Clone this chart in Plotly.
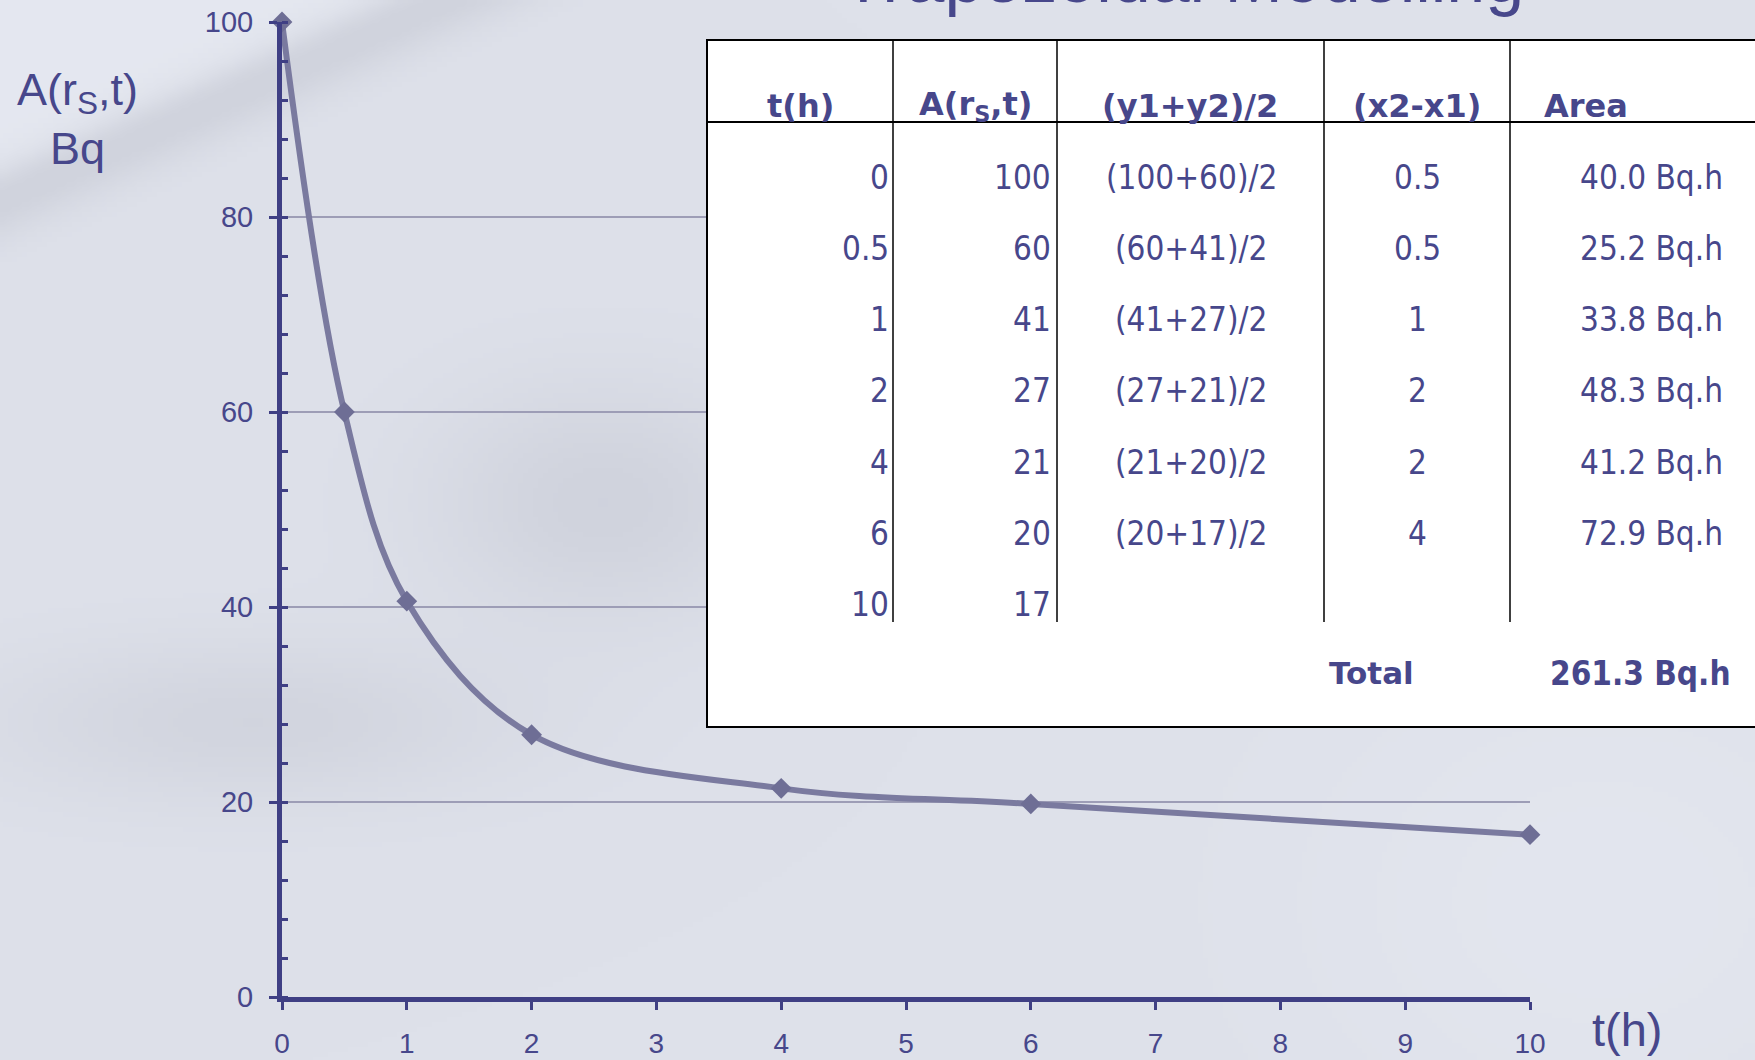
import base64
import struct
import zlib

import numpy as np
import plotly.graph_objects as go

# Activity curve A(r_S, t) sampled at the listed times
t_hours = [0, 0.5, 1, 2, 4, 6, 10]
activity_bq = [100, 60, 40.6, 26.9, 21.4, 19.8, 16.65]

# Trapezoid table: widths of each interval and resulting areas (Bq.h)
dt_hours = [0.5, 0.5, 1, 2, 2, 4]
area_bqh = [40.0, 25.2, 33.8, 48.3, 41.2, 72.9]
total_area_bqh = 261.3

y_tick_vals = [0, 20, 40, 60, 80, 100]
x_tick_vals = [0, 1, 2, 3, 4, 5, 6, 7, 8, 9, 10]
table_headers = ["t(h)", "A(r<sub>S</sub>,t)", "(y1+y2)/2", "(x2-x1)", "Area"]

TITLE = "Trapezoidal Modelling"

# ---------------------------------------------------------------- geometry
W, H = 1755, 1060
L, R, T, B = 282, 225, 22, 63
PW, PH = W - L - R, H - T - B

NAVY = "#3f3f84"
TEXT = "#47478b"
CURVE = "#7a7a9f"
GRID = "#9d9db6"
SANS = "Liberation Sans, Arial, sans-serif"
TABLE_FONT = "DejaVu Sans Condensed, DejaVu Sans, Verdana, sans-serif"
HEAD_FONT = "DejaVu Sans, Verdana, sans-serif"


def px(x):
    """pixel column -> paper x"""
    return (x - L) / PW


def py(y):
    """pixel row -> paper y"""
    return 1 - (y - T) / PH


# ---------------------------------------------------------------- backdrop
def snow_backdrop(w=351, h=212):
    yy, xx = np.mgrid[0:h, 0:w].astype(float)
    X = xx * W / w
    Y = yy * H / h
    shade = np.zeros((h, w))
    d = Y - (170 - 0.45 * X)          # distance below the drift edge
    shade += 7 / (1 + np.exp(d / 6))  # lighter corner above the edge
    shade -= 14 * np.exp(-((d - 28) / 38) ** 2)
    shade -= 14 * np.exp(-(((X - 600) / 170) ** 2 + ((Y - 500) / 120) ** 2))
    shade -= 12 * np.exp(-(((X - 250) / 260) ** 2 + ((Y - 720) / 80) ** 2))
    shade += 5 * np.exp(-(((X - 1600) / 320) ** 2 + ((Y - 900) / 260) ** 2))
    base = np.array([222.0, 225.0, 234.0])
    img = base[None, None, :] + shade[..., None] * np.array([1.0, 1.0, 0.92])
    img = np.clip(img, 0, 255).astype(np.uint8)

    raw = b"".join(b"\x00" + row.tobytes() for row in img)

    def chunk(tag, data):
        return (struct.pack(">I", len(data)) + tag + data
                + struct.pack(">I", zlib.crc32(tag + data) & 0xFFFFFFFF))

    png = (b"\x89PNG\r\n\x1a\n"
           + chunk(b"IHDR", struct.pack(">IIBBBBB", w, h, 8, 2, 0, 0, 0))
           + chunk(b"IDAT", zlib.compress(raw, 9))
           + chunk(b"IEND", b""))
    return "data:image/png;base64," + base64.b64encode(png).decode()


# ---------------------------------------------------------------- figure
fig = go.Figure()

fig.add_trace(go.Scatter(
    x=t_hours,
    y=activity_bq,
    mode="lines+markers",
    line=dict(color=CURVE, width=6, shape="spline", smoothing=1),
    marker=dict(symbol="diamond", size=16, color="#6e6e95"),
    cliponaxis=False,
    hoverinfo="x+y",
    showlegend=False,
))

shapes = []
annotations = []

# table box, header rule and column dividers
TBL_L, TBL_T, TBL_R, TBL_B = 707, 40, 1765, 727
HEAD_Y = 122
COL_EDGES = [893, 1057, 1324, 1510]
ROWS_END = 622

shapes.append(dict(type="rect", xref="paper", yref="paper",
                   x0=px(TBL_L), x1=px(TBL_R), y0=py(TBL_B), y1=py(TBL_T),
                   fillcolor="white", line=dict(color="black", width=2),
                   layer="above"))
shapes.append(dict(type="line", xref="paper", yref="paper",
                   x0=px(TBL_L), x1=px(TBL_R), y0=py(HEAD_Y), y1=py(HEAD_Y),
                   line=dict(color="black", width=2), layer="above"))
for cx in COL_EDGES:
    shapes.append(dict(type="line", xref="paper", yref="paper",
                       x0=px(cx), x1=px(cx), y0=py(TBL_T), y1=py(ROWS_END),
                       line=dict(color="black", width=1.5), layer="above"))


def note(text, x, y, anchor, size, bold=False, family=TABLE_FONT, color=TEXT):
    annotations.append(dict(
        text=f"<b>{text}</b>" if bold else text,
        xref="paper", yref="paper", x=px(x), y=py(y),
        xanchor=anchor, yanchor="middle", showarrow=False,
        font=dict(family=family, size=size, color=color),
    ))


# header row
head_pos = [(800, "center"), (975, "center"), (1190, "center"),
            (1417, "center"), (1542, "left")]
for label, (hx, anc) in zip(table_headers, head_pos):
    note(label, hx, 106, anc, 32, bold=True, family=HEAD_FONT)

# body rows
ROW_Y0, ROW_STEP = 177, 71.3
for i, (t, a) in enumerate(zip(t_hours, activity_bq)):
    ry = ROW_Y0 + i * ROW_STEP
    note(f"{t:g}", 891, ry, "right", 33)
    note(f"{round(a)}", 1053, ry, "right", 33)
    if i < len(dt_hours):
        a2 = activity_bq[i + 1]
        note(f"({round(a)}+{round(a2)})/2", 1191, ry, "center", 33)
        note(f"{dt_hours[i]:g}", 1417, ry, "center", 33)
        note(f"{area_bqh[i]:.1f} Bq.h", 1725, ry, "right", 33)

note("Total", 1327, 673, "left", 31, bold=True, family=HEAD_FONT)
note(f"{total_area_bqh:.1f} Bq.h", 1733, 673, "right", 33, bold=True,
     family=TABLE_FONT)

# title (runs off the top edge) and axis titles
note(TITLE, 1183, -22, "center", 70, family=SANS)
annotations.append(dict(
    text="A(r<sub>S</sub>,t)<br>Bq", xref="paper", yref="paper",
    x=px(77), y=py(62), xanchor="center", yanchor="top", align="center",
    showarrow=False, font=dict(family=SANS, size=45, color=TEXT),
))
note("t(h)", 1627, 1029, "center", 47, family=SANS)

fig.update_layout(
    width=W, height=H, autosize=False,
    margin=dict(l=L, r=R, t=T, b=B, pad=0, autoexpand=False),
    paper_bgcolor="#dee1ea",
    plot_bgcolor="rgba(0,0,0,0)",
    shapes=shapes,
    annotations=annotations,
    images=[dict(source=snow_backdrop(), xref="paper", yref="paper",
                 x=px(0), y=py(0), sizex=px(W) - px(0), sizey=py(0) - py(H),
                 xanchor="left", yanchor="top", sizing="stretch",
                 layer="below")],
    xaxis=dict(
        range=[0, 10], tickvals=x_tick_vals, showgrid=False, zeroline=False,
        automargin=False,
        showline=True, linecolor=NAVY, linewidth=5,
        ticks="outside", ticklen=8, tickwidth=3, tickcolor=NAVY,
        ticklabelstandoff=9,
        tickfont=dict(family=SANS, size=28, color=TEXT),
    ),
    yaxis=dict(
        range=[0, 100], tickvals=y_tick_vals, zeroline=False,
        automargin=False,
        showgrid=True, gridcolor=GRID, gridwidth=1.5,
        showline=True, linecolor=NAVY, linewidth=5,
        ticks="outside", ticklen=8, tickwidth=3, tickcolor=NAVY,
        ticklabelstandoff=10,
        tickfont=dict(family=SANS, size=29, color=TEXT),
        minor=dict(dtick=4, ticks="inside", ticklen=6, tickwidth=3,
                   tickcolor=NAVY, showgrid=False),
    ),
)

fig.write_html("out.html", config={"displayModeBar": False})
